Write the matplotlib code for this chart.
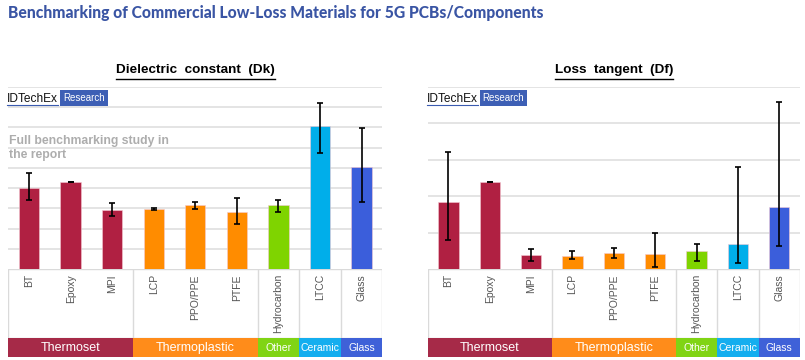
import matplotlib.pyplot as plt
from matplotlib.patches import Rectangle

materials = ['BT', 'Epoxy', 'MPI', 'LCP', 'PPO/PPE', 'PTFE', 'Hydrocarbon', 'LTCC', 'Glass']
groups = ['Thermoset', 'Thermoplastic', 'Other', 'Ceramic', 'Glass']
group_sizes = [3, 3, 1, 1, 1]

# Dk (one gridline = 1)
dk = [4.0, 4.31, 2.93, 2.96, 3.16, 2.83, 3.17, 7.06, 5.06]
dk_lo = [3.42, 4.30, 2.64, 2.92, 2.98, 2.21, 2.81, 5.72, 3.34]
dk_hi = [4.73, 4.32, 3.26, 3.00, 3.32, 3.52, 3.40, 8.18, 6.94]

# Df in units of 1e-3 (one gridline = 5)
df = [9.25, 11.95, 1.95, 1.8, 2.2, 2.05, 2.55, 3.45, 8.55]
df_lo = [3.95, 11.9, 1.2, 1.45, 1.5, 0.3, 1.15, 0.8, 3.15]
df_hi = [16.0, 12.0, 2.8, 2.5, 2.85, 4.95, 3.5, 14.0, 22.95]

bar_colors = ['#B02042'] * 3 + ['#FF8C00'] * 3 + ['#7FD400', '#00AEEA', '#3B5EDB']
band_colors = ['#A62A48', '#FF8C1A', '#80D414', '#14AEEF', '#3F61D8']

W, H = 805, 360
fig = plt.figure(figsize=(W / 100, H / 100), dpi=100)
r = fig.canvas.get_renderer()


def fx(px):
    return px / W


def fy(py):
    return 1 - py / H


def draw_panel(x0, x1, vals, lo, hi, ymax, step, title, note=False):
    top, base = 86.7, 269.3
    ax = fig.add_axes([fx(x0), fy(base), fx(x1) - fx(x0), fy(top) - fy(base)])
    n = len(vals)
    xs = range(n)
    yerr = [[v - l for v, l in zip(vals, lo)], [h - v for v, h in zip(vals, hi)]]
    ax.bar(xs, vals, width=0.49, color=bar_colors, edgecolor='#F4C9D4', linewidth=0.4, zorder=3)
    ax.errorbar(xs, vals, yerr=yerr, fmt='none', ecolor='black', elinewidth=1.2,
                capsize=2, capthick=1.2, zorder=4)
    ax.set_xlim(-0.5, n - 0.5)
    ax.set_ylim(0, ymax)
    ax.set_yticks([step * i for i in range(1, int(ymax / step) + 1)])
    ax.yaxis.grid(True, color='#E2E2E2', linewidth=1.3, zorder=0)
    ax.tick_params(left=False, bottom=False, labelleft=False, labelbottom=False)
    for s in ax.spines.values():
        s.set_visible(False)

    # category label area
    lab = fig.add_axes([fx(x0), fy(338.3), fx(x1) - fx(x0), fy(base) - fy(338.3)])
    lab.set_xlim(-0.5, n - 0.5)
    lab.set_ylim(0, 1)
    lab.axis('off')
    lab.add_patch(Rectangle((-0.5, 0), n, 1, fill=False, edgecolor='#DADADA', linewidth=1))
    pos = -0.5
    for size in group_sizes[:-1]:
        pos += size
        lab.plot([pos, pos], [0, 1], color='#DADADA', linewidth=1)
    for i, m in enumerate(materials):
        lab.text(i, 0.93, m, rotation=90, ha='center', va='top', fontsize=7.5,
                 color='#555555', family='Liberation Sans')

    band = fig.add_axes([fx(x0), fy(356.7), fx(x1) - fx(x0), fy(338.3) - fy(356.7)])
    band.set_xlim(-0.5, n - 0.5)
    band.set_ylim(0, 1)
    band.axis('off')
    pos = -0.5
    for g, size, c in zip(groups, group_sizes, band_colors):
        band.add_patch(Rectangle((pos, 0), size, 1, color=c, linewidth=0))
        fs = 9 if size > 1 else 7.5
        band.text(pos + size / 2, 0.47, g, ha='center', va='center', color='white',
                  fontsize=fs, family='Liberation Sans')
        pos += size

    # panel title with underline
    cx = (x0 + x1) / 2
    t = fig.text(fx(cx), fy(70), title, ha='center', va='center', fontsize=9.7,
                 fontweight='bold', family='Liberation Sans')
    bb = t.get_window_extent(r)
    fig.add_artist(plt.Line2D([bb.x0 / W, bb.x1 / W], [fy(78.5), fy(78.5)],
                              color='black', linewidth=1))

    # logo
    lt = fig.text(fx(x0 - 1), fy(98.5), 'IDTechEx', ha='left', va='center', fontsize=8.6,
                  family='Liberation Sans', color='#111111')
    bb = lt.get_window_extent(r)
    fig.add_artist(plt.Line2D([bb.x0 / W, bb.x1 / W], [fy(104.5), fy(104.5)],
                              color='#3A5BB0', linewidth=0.8))
    fig.text(bb.x1 / W + fx(5), fy(98.3), 'Research', ha='left', va='center', fontsize=7,
             family='Liberation Sans', color='white',
             bbox=dict(boxstyle='square,pad=0.3', facecolor='#3D5FB5', edgecolor='none'))

    if note:
        fig.text(fx(x0 + 1), fy(148), 'Full benchmarking study in\nthe report', ha='left',
                 va='center', fontsize=8.8, fontweight='bold', color='#ADADAD',
                 family='Liberation Sans', linespacing=1.25)


title = fig.text(fx(8), fy(13), 'Benchmarking of Commercial Low-Loss Materials for 5G PCBs/Components',
                 ha='left', va='center', fontsize=14, fontweight='black', color='#3A55A4',
                 family='Lato')
# fit the title to roughly the width it has in the original
w = title.get_window_extent(r).width
title.set_fontsize(14 * 535 / w)

draw_panel(8.3, 382.3, dk, dk_lo, dk_hi, 9, 1, 'Dielectric  constant  (Dk)', note=True)
draw_panel(427.7, 800, df, df_lo, df_hi, 25, 5, 'Loss  tangent  (Df)')

fig.savefig('out.png', dpi=100)
